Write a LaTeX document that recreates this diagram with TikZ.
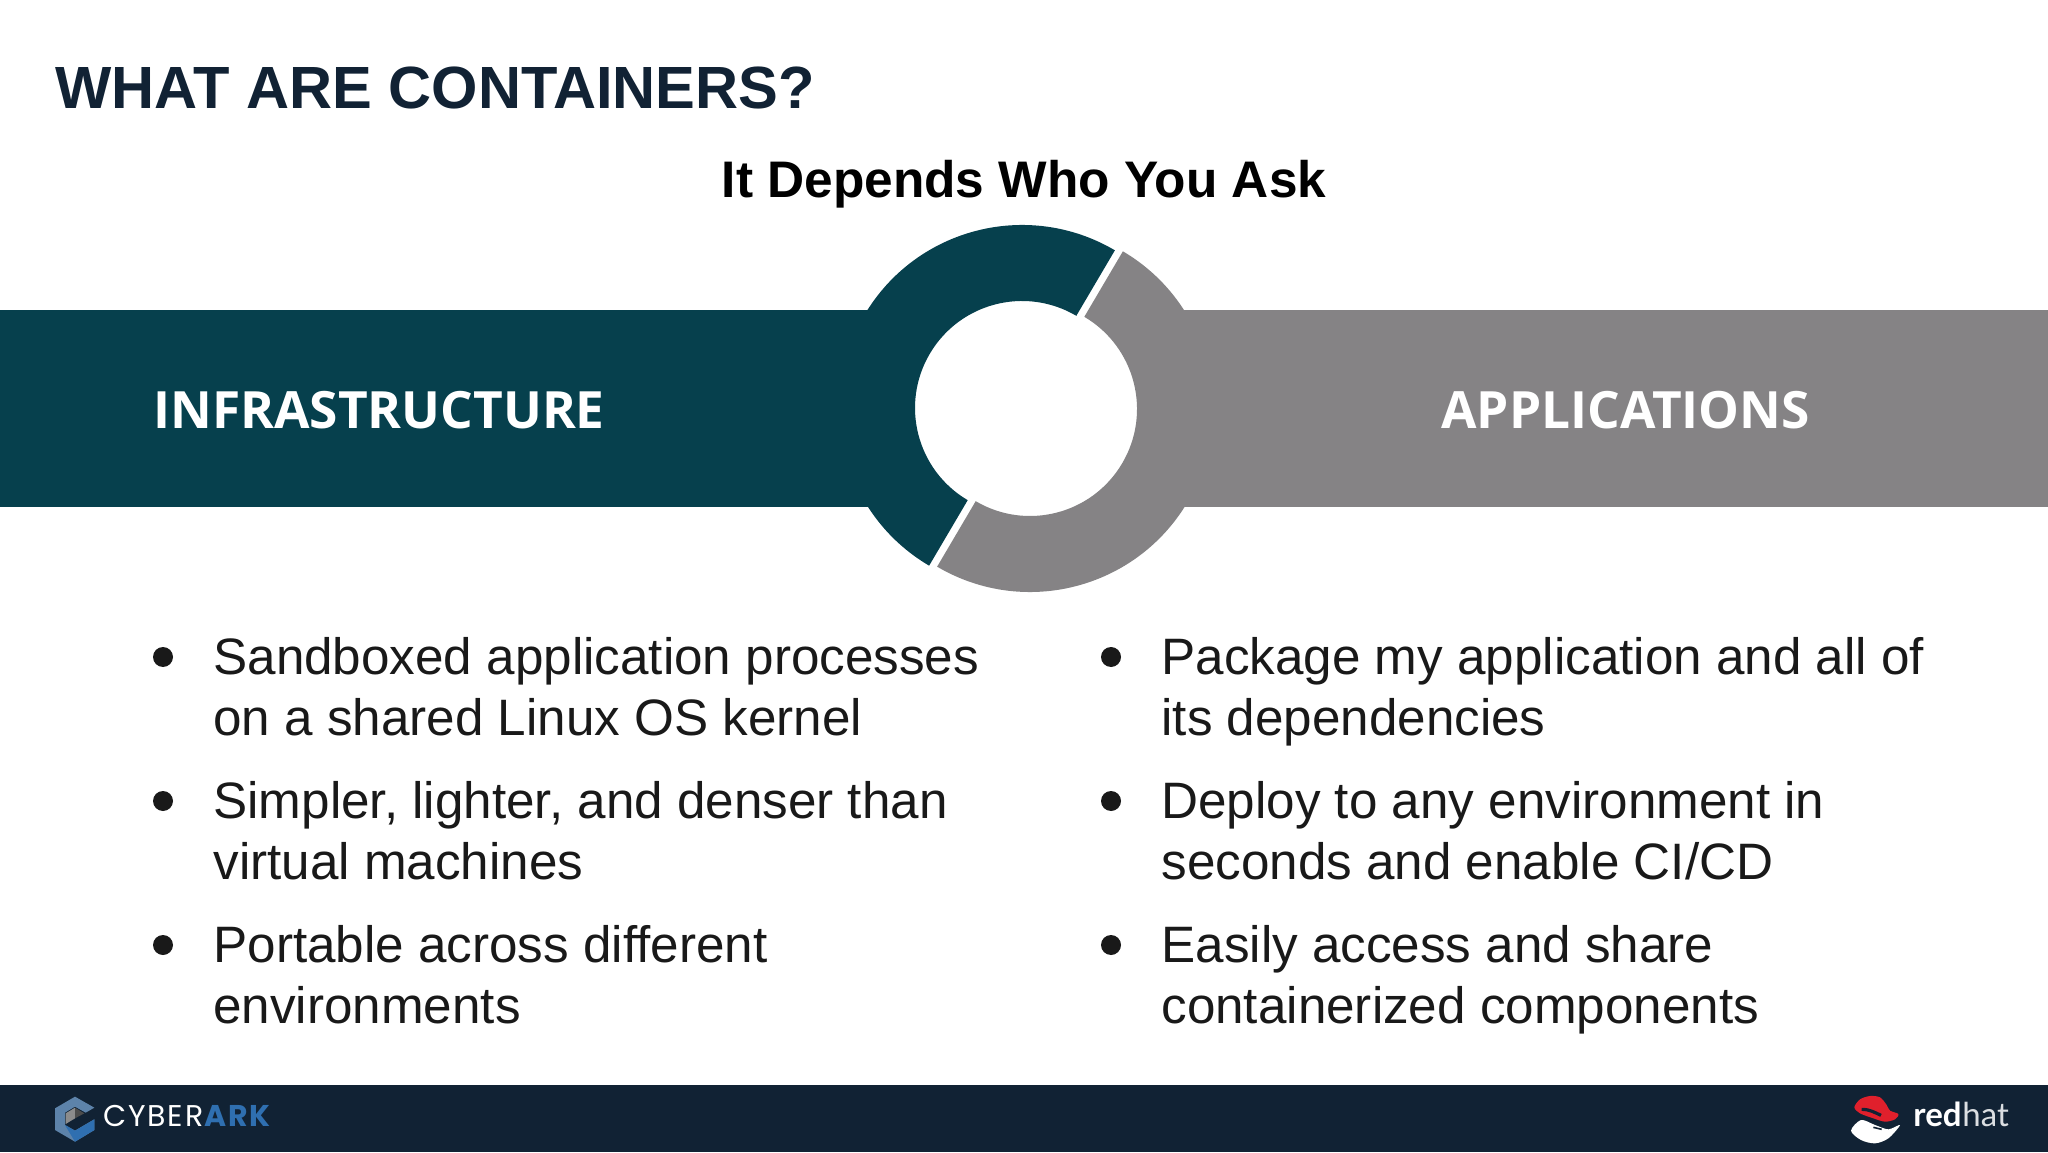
\documentclass[tikz,border=0pt]{standalone}
\usepackage{fontspec}
\setmainfont{Liberation Sans}
\newfontfamily\barfont{Open Sans}
\newfontfamily\logofont[LetterSpace=6]{Poppins}
\newfontfamily\hatfont{Lato}
\definecolor{navy}{HTML}{112234}
\definecolor{teal}{HTML}{06404D}
\definecolor{ashgrey}{HTML}{858385}
\definecolor{arkblue}{HTML}{2F6FB0}
\definecolor{hatred}{HTML}{E0202C}
\tikzset{
  itemtext/.style={anchor=north west, inner sep=0pt, align=left, text=black!90,
    font=\fontsize{25.6}{30.7}\selectfont},
  itemdot/.style={circle, fill=black!90, inner sep=0pt, minimum size=10pt},
  barlabel/.style={inner sep=0pt, text=white, font=\barfont\bfseries\fontsize{25.7}{28}\selectfont},
  logotext/.style={anchor=base west, inner sep=0pt},
}
\begin{document}
\begin{tikzpicture}[x=0.5pt, y=0.5pt]
  \useasboundingbox (0,0) rectangle (2048,1152);
  \fill[white] (0,0) rectangle (2048,1152);
  \node[anchor=base west, inner sep=0pt, text=navy, font=\bfseries\fontsize{29.8}{32}\selectfont] (title) at (55,1043) {WHAT ARE CONTAINERS?};
  \node[anchor=base, inner sep=0pt, font=\bfseries\fontsize{25.7}{28}\selectfont] (subtitle) at (1024,954) {It Depends Who You Ask};
  % bars and ring
  \fill[teal] (0,645) rectangle (900,842);
  \fill[ashgrey] (1160,645) rectangle (2048,842);
  \fill[teal, shift={(1022,744)}] (59.5:183) arc[start angle=59.5, end angle=239.5, radius=183]
    -- (239.5:107) arc[start angle=239.5, end angle=59.5, radius=107] -- cycle;
  \fill[ashgrey, shift={(1030,743)}] (59.5:183) arc[start angle=59.5, end angle=-120.5, radius=183]
    -- (-120.5:107) arc[start angle=-120.5, end angle=59.5, radius=107] -- cycle;
  \node[barlabel, anchor=west] (infra) at (153,742) {INFRASTRUCTURE};
  \node[barlabel, anchor=west] (apps) at (1441,742) {APPLICATIONS};
  % left column
  \node[itemdot] (ldot1) at (163,495) {};
  \node[itemtext] (litem1) at (213,515) {Sandboxed application processes\\on a shared Linux OS kernel};
  \node[itemdot] (ldot2) at (163,351) {};
  \node[itemtext] (litem2) at (213,371) {Simpler, lighter, and denser than\\virtual machines};
  \node[itemdot] (ldot3) at (163,207) {};
  \node[itemtext] (litem3) at (213,227) {Portable across different\\environments};
  % right column
  \node[itemdot] (rdot1) at (1111,495) {};
  \node[itemtext] (ritem1) at (1161,515) {Package my application and all of\\its dependencies};
  \node[itemdot] (rdot2) at (1111,351) {};
  \node[itemtext] (ritem2) at (1161,371) {Deploy to any environment in\\seconds and enable CI/CD};
  \node[itemdot] (rdot3) at (1111,207) {};
  \node[itemtext] (ritem3) at (1161,227) {Easily access and share\\containerized components};
  % footer
  \fill[navy] (0,0) rectangle (2048,67);
  \begin{scope}[shift={(45,62)}, x=0.1667pt, y=-0.1667pt]
    \fill[arkblue!70!white!85!black] (90,20) -- (148,53) -- (122,68) -- (90,50) -- (60,68) -- (60,105) -- (90,122)
      -- (148,88) -- (148,120) -- (90,155) -- (30,120) -- (30,55) -- cycle;
    \fill[arkblue] (60,105) -- (90,122) -- (148,88) -- (148,120) -- (90,155) -- (90,155) -- cycle;
    \fill[black!45] (62,70) -- (90,53) -- (90,85) -- (62,102) -- cycle;
    \fill[black!70] (90,53) -- (118,70) -- (90,85) -- cycle;
  \end{scope}
  \node[logotext, text=white, font=\logofont\fontsize{15}{16}\selectfont] (cyber) at (103,26) {CYBER};
  \node[logotext, text=arkblue, font=\logofont\bfseries\fontsize{15}{16}\selectfont] (ark) at (cyber.base east) {ARK};
  \begin{scope}[shift={(1845,62)}, x=0.1667pt, y=-0.1667pt]
    \fill[white] plot[smooth cycle] coordinates {(18,122) (48,90) (90,105) (130,118) (165,105) (130,145) (90,160) (48,150)};
    \fill[hatred] plot[smooth cycle] coordinates {(28,52) (45,28) (75,18) (105,22) (125,45) (135,62) (160,72) (150,88) (120,95) (85,85) (45,70)};
    \draw[navy, line width=1.6pt] (50,58) .. controls (75,58) and (90,68) .. (108,76);
    \draw[navy, line width=0.8pt] (85,112) -- (110,118);
  \end{scope}
  \node[logotext, text=white, font=\hatfont\bfseries\fontsize{16.5}{18}\selectfont] (red) at (1913,26) {red};
  \node[logotext, text=white!85!navy, font=\hatfont\fontsize{16.5}{18}\selectfont] (hat) at (red.base east) {hat};
\end{tikzpicture}
\end{document}
